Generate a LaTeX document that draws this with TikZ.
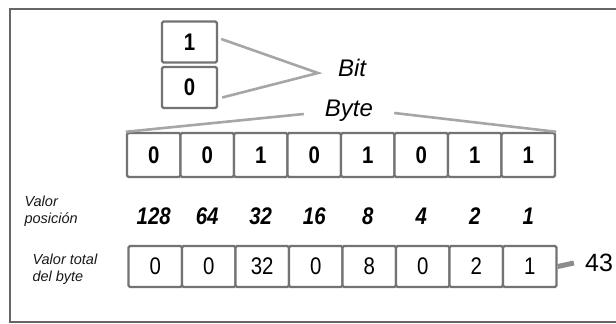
\documentclass[tikz,border=0pt]{standalone}
\usepackage{fontspec}
\setmainfont{Liberation Sans}
\newfontfamily\estrecha[FakeStretch=0.85]{Liberation Sans}
\begin{document}
\begin{tikzpicture}[x=1pt,y=-1pt,
    caja/.style={draw=black!55,line width=2.4pt,rounded corners=1.5pt,fill=white,
      minimum width=53.5pt,minimum height=44pt,inner sep=0pt,
      font=\estrecha\fontsize{24}{24}\selectfont\bfseries},
    bitcaja/.style={caja,minimum width=55pt,minimum height=41pt},
    totcaja/.style={caja,minimum height=41pt,font=\estrecha\fontsize{24}{24}\selectfont},
    enlace/.style={draw=black!35,line width=2.6pt},
    etiq/.style={font=\fontsize{24}{24}\selectfont\itshape},
    peso/.style={font=\estrecha\fontsize{24}{24}\selectfont\itshape\bfseries},
    nota/.style={font=\fontsize{14.5}{17}\selectfont\itshape,align=left,anchor=west,text=black!90}]
  \useasboundingbox (0,0) rectangle (616,324);
  %marco
  \draw[black!60,line width=2.5pt] (630,9) -- (10,9) -- (10,322) -- (630,322);
  %bit
  \node[bitcaja] (bit1) at (189.5,42) {1};
  \node[bitcaja] (bit0) at (189.5,87.5) {0};
  \node[etiq,inner xsep=15pt] (bit) at (352,68) {Bit};
  \coordinate (union) at (318,73);
  \draw[enlace] ([xshift=3pt,yshift=3pt]bit1.east) -- (union) -- ([xshift=4pt,yshift=-10pt]bit0.east);
  %byte
  \foreach \d [count=\i] in {0,0,1,0,1,0,1,1}
    \node[caja] (byte\i) at (100.25+53.5*\i,155) {\d};
  \node[etiq,inner xsep=21pt] (byte) at (349,111) {Byte};
  \draw[enlace] (byte1.north west) -- ([yshift=-3pt]byte.west);
  \draw[enlace] ([yshift=-2pt]byte.east) -- (byte8.north east);
  %valor posicion
  \node[nota] (valpos) at (21,211) {Valor\\posición};
  \foreach \v [count=\i] in {128,64,32,16,8,4,2,1}
    \node[peso] (peso\i) at (100.25+53.5*\i,216) {\v};
  %valor total
  \node[nota] (valtot) at (29,269) {Valor total\\del byte};
  \foreach \v [count=\i] in {0,0,32,0,8,0,2,1}
    \node[totcaja] (tot\i) at (101.75+53.5*\i,266.5) {\v};
  \node[font=\fontsize{25}{25}\selectfont,inner xsep=11pt] (total) at (599,263) {43};
  \draw[black!45,line width=5pt] (tot8.east) -- (total.west);
\end{tikzpicture}
\end{document}
